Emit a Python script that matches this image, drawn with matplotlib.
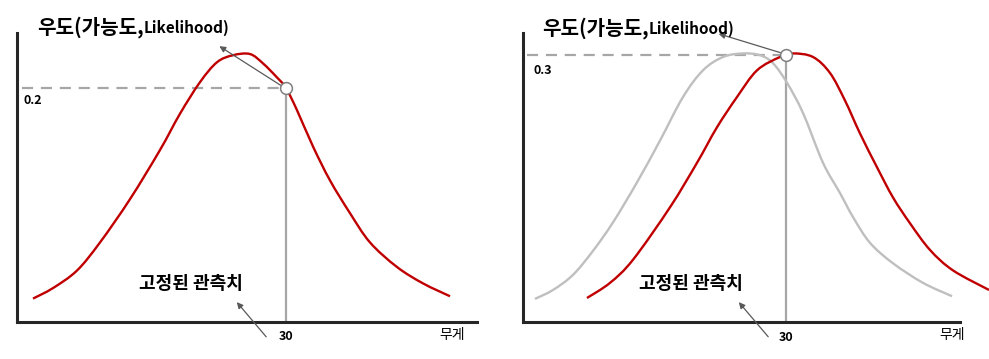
import matplotlib
matplotlib.use("Agg")
import matplotlib.pyplot as plt
from matplotlib.path import Path
from matplotlib.patches import PathPatch

plt.rcParams['font.family'] = ['Noto Sans CJK KR', 'DejaVu Sans']

# ---- data ----
# left panel: likelihood curve for the fixed observation (weight = 30)
left_x = [4.7, 6.7, 9.1, 11.4, 14.4, 17.4, 19.4, 21.4, 23.1, 24.7, 26.4,
          27.7, 29.1, 30.0, 31.1, 32.7, 34.4, 36.4, 38.4, 41.1, 43.7, 46.4]
left_y = [0.020, 0.029, 0.044, 0.068, 0.105, 0.147, 0.178, 0.205, 0.222, 0.228, 0.229,
          0.221, 0.209, 0.200, 0.181, 0.150, 0.121, 0.093, 0.068, 0.047, 0.033, 0.022]

# right panel: old distribution (gray) and shifted one (red)
gray_x = [4.9, 6.7, 8.7, 10.7, 12.7, 15.1, 17.4, 19.7, 21.7, 23.7, 25.7,
          27.4, 28.7, 30.1, 31.7, 33.7, 35.4, 36.7, 38.4, 40.7, 43.7, 46.6]
gray_y = [0.026, 0.036, 0.053, 0.080, 0.112, 0.157, 0.204, 0.253, 0.283, 0.298, 0.302,
          0.300, 0.291, 0.269, 0.235, 0.179, 0.145, 0.118, 0.089, 0.066, 0.044, 0.029]
red_x = [10.1, 12.4, 14.7, 18.4, 21.1, 23.1, 25.1, 27.1, 29.4, 30.7,
         32.7, 34.4, 35.9, 37.4, 39.1, 40.7, 42.4, 44.4, 46.7, 50.3]
red_y = [0.027, 0.044, 0.070, 0.129, 0.179, 0.219, 0.253, 0.283, 0.298, 0.302,
         0.298, 0.280, 0.249, 0.212, 0.174, 0.140, 0.111, 0.081, 0.058, 0.036]

obs_x = 30
obs_labels = ["30", "30"]
lik_values = [0.2, 0.3]
lik_labels = ["0.2", "0.3"]

RED = '#c00000'
LGRAY = '#bfbfbf'
MGRAY = '#a6a6a6'
ARROW = '#595959'
AXIS = '#262626'


def smooth_curve(ax, xs, ys, color, z):
    """Draw a smooth (Catmull-Rom -> cubic Bezier) line through the read points."""
    pts = list(zip(xs, ys))
    verts = [pts[0]]
    codes = [Path.MOVETO]
    for i in range(len(pts) - 1):
        p0 = pts[i - 1] if i > 0 else pts[i]
        p1, p2 = pts[i], pts[i + 1]
        p3 = pts[i + 2] if i + 2 < len(pts) else pts[i + 1]
        c1 = (p1[0] + (p2[0] - p0[0]) / 6, p1[1] + (p2[1] - p0[1]) / 6)
        c2 = (p2[0] - (p3[0] - p1[0]) / 6, p2[1] - (p3[1] - p1[1]) / 6)
        verts += [c1, c2, p2]
        codes += [Path.CURVE4] * 3
    ax.add_patch(PathPatch(Path(verts, codes), fill=False, edgecolor=color,
                           lw=1.7, zorder=z, clip_on=False))


def setup(ax, xlim, ylim):
    ax.set_xlim(*xlim)
    ax.set_ylim(*ylim)
    for s in ['top', 'right']:
        ax.spines[s].set_visible(False)
    for s in ['left', 'bottom']:
        ax.spines[s].set_color(AXIS)
        ax.spines[s].set_linewidth(2.2)
    ax.set_xticks([])
    ax.set_yticks([])
    ax.patch.set_alpha(0)


def title(ax, x, y):
    t1 = ax.text(x, y, "우도(가능도,", fontsize=14.5, fontweight='bold',
                 ha='left', va='center', clip_on=False)
    ax.annotate("Likelihood)", xy=(1, 0.45), xycoords=t1, xytext=(0, 0),
                textcoords='offset points', fontsize=11, fontweight='bold',
                ha='left', va='center', annotation_clip=False)


def observed(ax, lik, lik_label, lab_x, lab_y, dash_x0, ylab_obs, ylab_w,
             obs_txt, txt_y, title_tail, title_head, obs_tail, obs_head):
    ax.plot([dash_x0, obs_x], [lik, lik], color=MGRAY, lw=1.6,
            dashes=(5, 3.5), zorder=2)
    ax.plot([obs_x, obs_x], [0, lik], color=MGRAY, lw=1.6, zorder=2)
    ax.annotate("", xy=title_head, xytext=title_tail,
                arrowprops=dict(arrowstyle='-|>', color=ARROW, lw=0.9,
                                mutation_scale=9), annotation_clip=False)
    ax.plot([obs_x], [lik], marker='o', ms=8.5, mfc='white', mec='#7f7f7f',
            mew=1.1, zorder=5, clip_on=False)
    ax.text(lab_x, lab_y, lik_label, fontsize=9, fontweight='bold',
            ha='left', va='center')
    ax.text(obs_x, ylab_obs, obs_txt, fontsize=9, fontweight='bold',
            ha='center', va='center', clip_on=False)
    ax.text(46.6, ylab_w, "무게", fontsize=10, ha='center', va='center',
            clip_on=False)
    ax.text(20.5, txt_y, "고정된 관측치", fontsize=13, fontweight='bold',
            ha='center', va='center')
    ax.annotate("", xy=obs_head, xytext=obs_tail,
                arrowprops=dict(arrowstyle='-|>', color=ARROW, lw=0.9,
                                mutation_scale=9), annotation_clip=False)


fig = plt.figure(figsize=(9.89, 3.59), dpi=100)
ax1 = fig.add_axes([0.0172, 0.1031, 0.4651, 0.805])
ax2 = fig.add_axes([0.5288, 0.1031, 0.4419, 0.805])

# ---- left ----
setup(ax1, (3.1, 49.1), (0, 0.247))
smooth_curve(ax1, left_x, left_y, RED, 3)
observed(ax1, lik_values[0], lik_labels[0], 3.7, 0.189, 3.6, -0.0128, -0.0111,
         obs_labels[0], 0.0333, (29.7, 0.201), (23.1, 0.237), (28.2, -0.0145), (24.9, 0.0188))
title(ax1, 5.1, 0.252)

# ---- right ----
setup(ax2, (3.7, 47.4), (0, 0.325))
smooth_curve(ax2, gray_x, gray_y, LGRAY, 3)
smooth_curve(ax2, red_x, red_y, RED, 4)
observed(ax2, lik_values[1], lik_labels[1], 4.8, 0.283, 4.1, -0.0169, -0.0146,
         obs_labels[1], 0.0438, (29.7, 0.302), (23.0, 0.325), (28.4, -0.019), (25.1, 0.0247))
title(ax2, 5.6, 0.331)

fig.savefig("out.png", dpi=100)
